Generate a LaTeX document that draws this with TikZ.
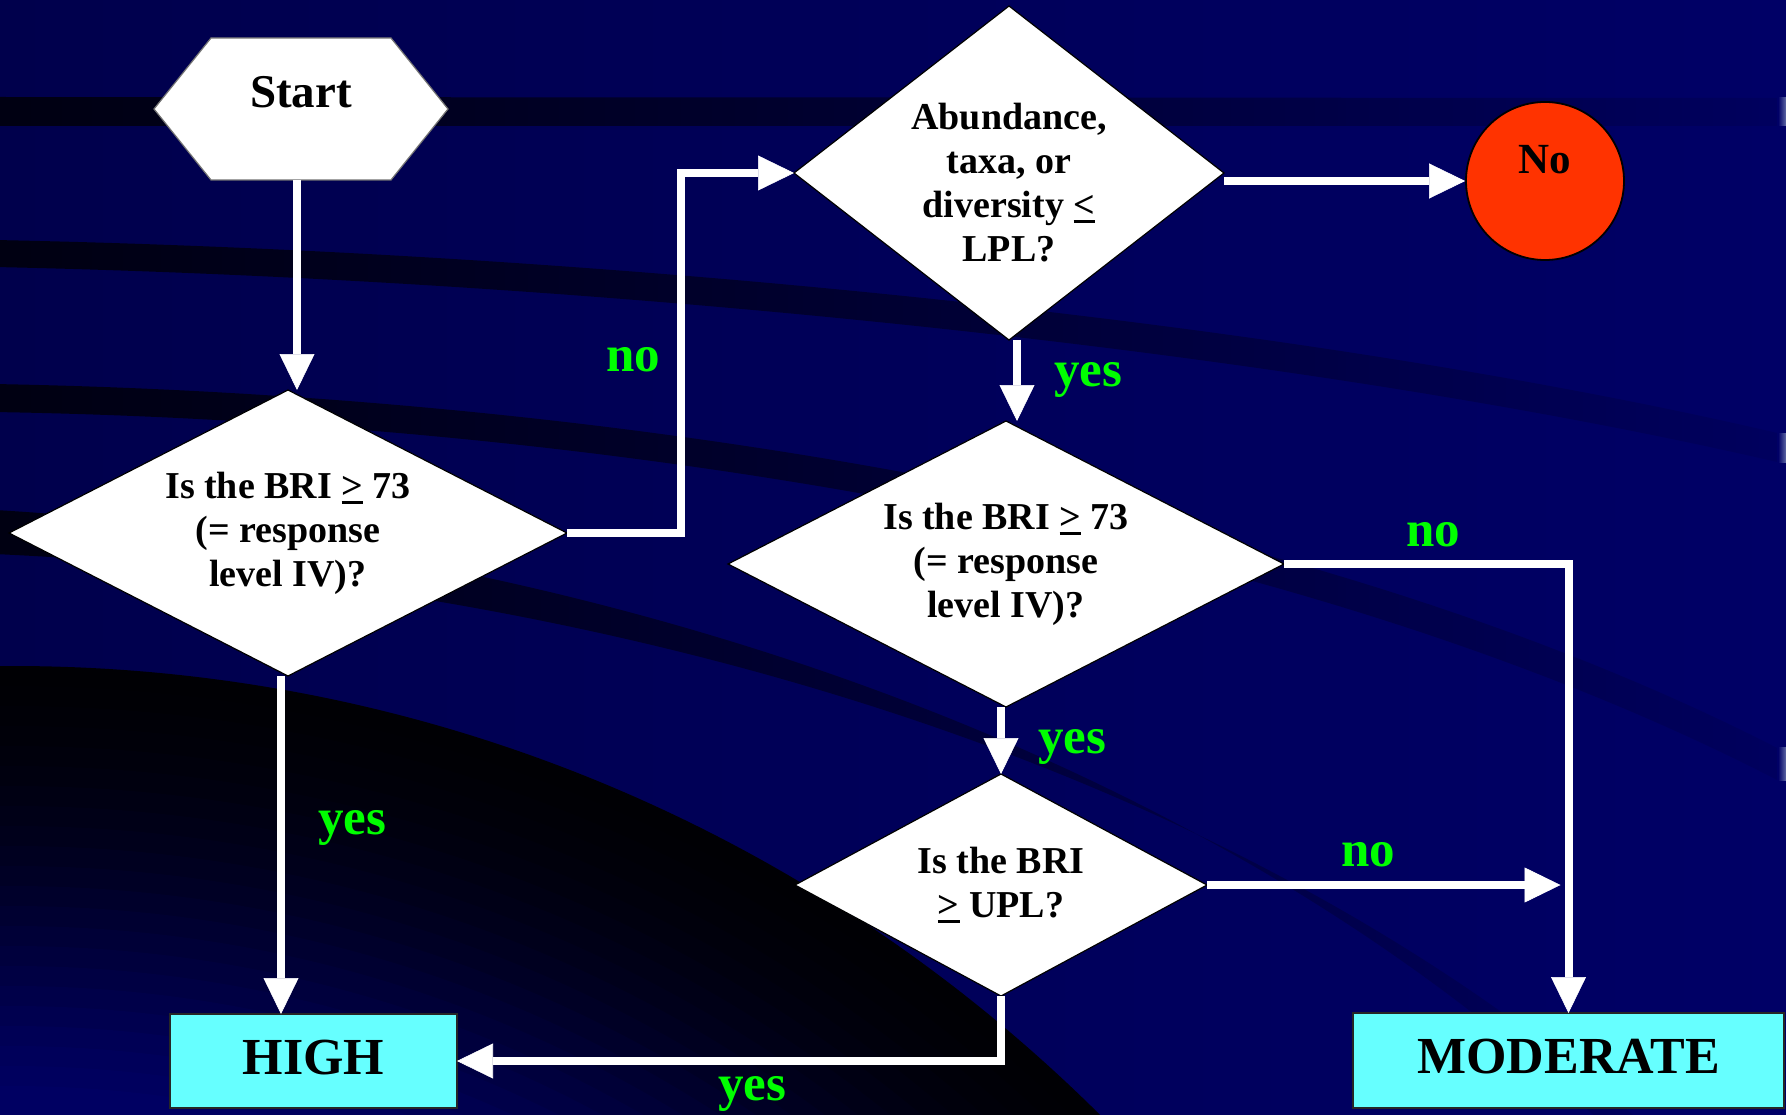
\documentclass[tikz,border=0pt]{standalone}
\usepackage{fontspec}
\setmainfont{Liberation Serif}
\usetikzlibrary{shapes.geometric,arrows.meta,fadings,calc}

\definecolor{bgleft}{RGB}{0,0,76}
\definecolor{bgright}{RGB}{0,0,102}
\definecolor{bandcol}{RGB}{0,0,18}
\definecolor{edgeglow}{RGB}{95,105,165}
\definecolor{answergreen}{RGB}{0,255,0}
\definecolor{stopred}{RGB}{255,51,0}
\definecolor{resultcyan}{RGB}{102,255,255}

% dark swooshes fade out towards the right
\tikzfading[name=bandfade, left color=transparent!0, middle color=transparent!40, right color=transparent!92]

% relation sign with a heavy bar underneath
\newcommand{\ulsym}[1]{\setbox0=\hbox{#1}\rlap{\rule[-6pt]{\wd0}{3pt}}\box0\relax}

\begin{document}
\begin{tikzpicture}[x=1pt, y=-1pt,
  flow/.style={draw=white, line width=8pt, -{Triangle[width=35pt, length=36pt, line width=0.6pt]}},
  decision/.style={diamond, draw=black, line width=1.2pt, fill=white, inner sep=0pt, outer sep=0pt,
    align=center, font=\fontsize{38}{44}\selectfont\bfseries},
  result/.style={rectangle, draw=black!85, line width=1.5pt, fill=resultcyan, inner sep=0pt, outer sep=0pt,
    text depth=8pt, font=\fontsize{52}{60}\selectfont\bfseries},
  answer/.style={anchor=base, text=answergreen, font=\fontsize{51}{60}\selectfont\bfseries},
]
\useasboundingbox (0,0) rectangle (1786,1115);

% ---------- background ----------
\begin{scope}
  \clip (0,0) rectangle (1786,1115);
  \shade[left color=bgleft, right color=bgright] (0,0) rectangle (1786,1115);
  \fill[bandcol, path fading=bandfade] (0,97) -- (1786,98) -- (1786,126) -- (0,126) -- cycle;
  \fill[bandcol, path fading=bandfade] (0,240) .. controls (600,252) and (1300,320) .. (1786,433)
       -- (1786,462) .. controls (1300,350) and (600,280) .. (0,267) -- cycle;
  \fill[bandcol, path fading=bandfade] (0,384) .. controls (600,395) and (1300,500) .. (1786,748)
       -- (1786,780) .. controls (1300,530) and (600,422) .. (0,412) -- cycle;
  \fill[bandcol, path fading=bandfade] (0,510) .. controls (500,540) and (1150,700) .. (1600,1115)
       -- (1640,1115) .. controls (1180,720) and (520,578) .. (0,554) -- cycle;
  % large dark sweep in the lower left: nested discs, darkest at the rim
  \foreach \k/\b in {0/4,1/5,2/7,3/9,4/12,5/15,6/19,7/23,8/27,9/32,10/37,11/43,
                     12/49,13/55,14/61,15/67,16/73,17/79,18/85,19/90,20/94,21/98}{
    \fill[fill={rgb,255:red,0;green,0;blue,\b}] (12,2209) circle [radius={(1543-20*\k)*1pt}];
  }
  \shade[left color=bgright, right color=edgeglow] (1778,98) rectangle (1786,126);
  \shade[left color=bgright, right color=edgeglow] (1778,433) rectangle (1786,462);
  \shade[left color=bgright, right color=edgeglow] (1778,747) rectangle (1786,780);
\end{scope}

% ---------- start ----------
\node[minimum width=294pt, minimum height=142pt, inner sep=0pt, outer sep=0pt] (start) at (301,109) {};
\filldraw[fill=white, draw=black!55, line width=1.2pt]
  (start.west) -- ([xshift=57pt]start.north west) -- ([xshift=-57pt]start.north east)
  -- (start.east) -- ([xshift=-57pt]start.south east) -- ([xshift=57pt]start.south west) -- cycle;
\node[anchor=base, font=\fontsize{47}{56}\selectfont\bfseries] (starttext) at ([yshift=1pt]start.center) {Start};

% ---------- decisions ----------
\node[decision, minimum width=558pt, minimum height=286pt, shape aspect=2] (d1) at (288,533)
  {Is the BRI \ulsym{>} 73\\(= response\\level IV)?};
\node[decision, minimum width=430pt, minimum height=334pt, shape aspect=1.3] (d2) at (1009,173)
  {\rule{0pt}{45pt}Abundance,\\taxa, or\\diversity \ulsym{<}\\LPL?};
\node[decision, minimum width=556pt, minimum height=286pt, shape aspect=2] (d3) at (1006,564)
  {Is the BRI \ulsym{>} 73\\(= response\\level IV)?};
\node[decision, minimum width=412pt, minimum height=222pt, shape aspect=1.86] (d4) at (1001,885)
  {Is the BRI\\\ulsym{>} UPL?};

% ---------- outcomes ----------
\node[circle, minimum size=158pt, inner sep=0pt, fill=stopred, draw=black, line width=1.8pt] (no) at (1545,181) {};
\node[anchor=base, font=\fontsize{43}{50}\selectfont\bfseries] (notext) at ([yshift=7pt]no.center) {No};
\node[result, minimum width=287pt, minimum height=94pt] (high) at (313.5,1061) {HIGH};
\node[result, minimum width=431pt, minimum height=95pt] (mod) at (1568.5,1060.5) {MODERATE};

% ---------- connectors ----------
\draw[flow] ([xshift=-4pt]start.south) -- ([xshift=-4pt]start.south |- d1.north);
\coordinate (bendA) at ($(d1.east)!.5!(d2.west)$);
\draw[flow] (d1.east) -| (bendA) |- (d2.west);
\draw[flow] (d2.east |- no.west) -- (no.west);
\draw[flow] ([xshift=8pt]d2.south) -- ([xshift=8pt]d2.south |- d3.north);
\draw[flow] (d3.east) -| (mod.north);
\draw[flow] ([xshift=-5pt]d3.south) -- ([xshift=-5pt]d3.south |- d4.north);
\coordinate (joinB) at ([xshift=-8pt]d4.east -| mod.north);
\draw[flow] (d4.east) -- (joinB);
\draw[flow] (d4.south) |- (high.east);
\draw[flow] ([xshift=-7pt]d1.south) -- ([xshift=-7pt]d1.south |- high.north);

% ---------- branch labels ----------
\node[answer] (ansA) at (633,371) {no};
\node[answer] (ansB) at (1088,386) {yes};
\node[answer] (ansC) at (1433,546) {no};
\node[answer] (ansD) at (1072,753) {yes};
\node[answer] (ansE) at (1368,866) {no};
\node[answer] (ansF) at (752,1100) {yes};
\node[answer] (ansG) at (352,834) {yes};
\end{tikzpicture}
\end{document}
